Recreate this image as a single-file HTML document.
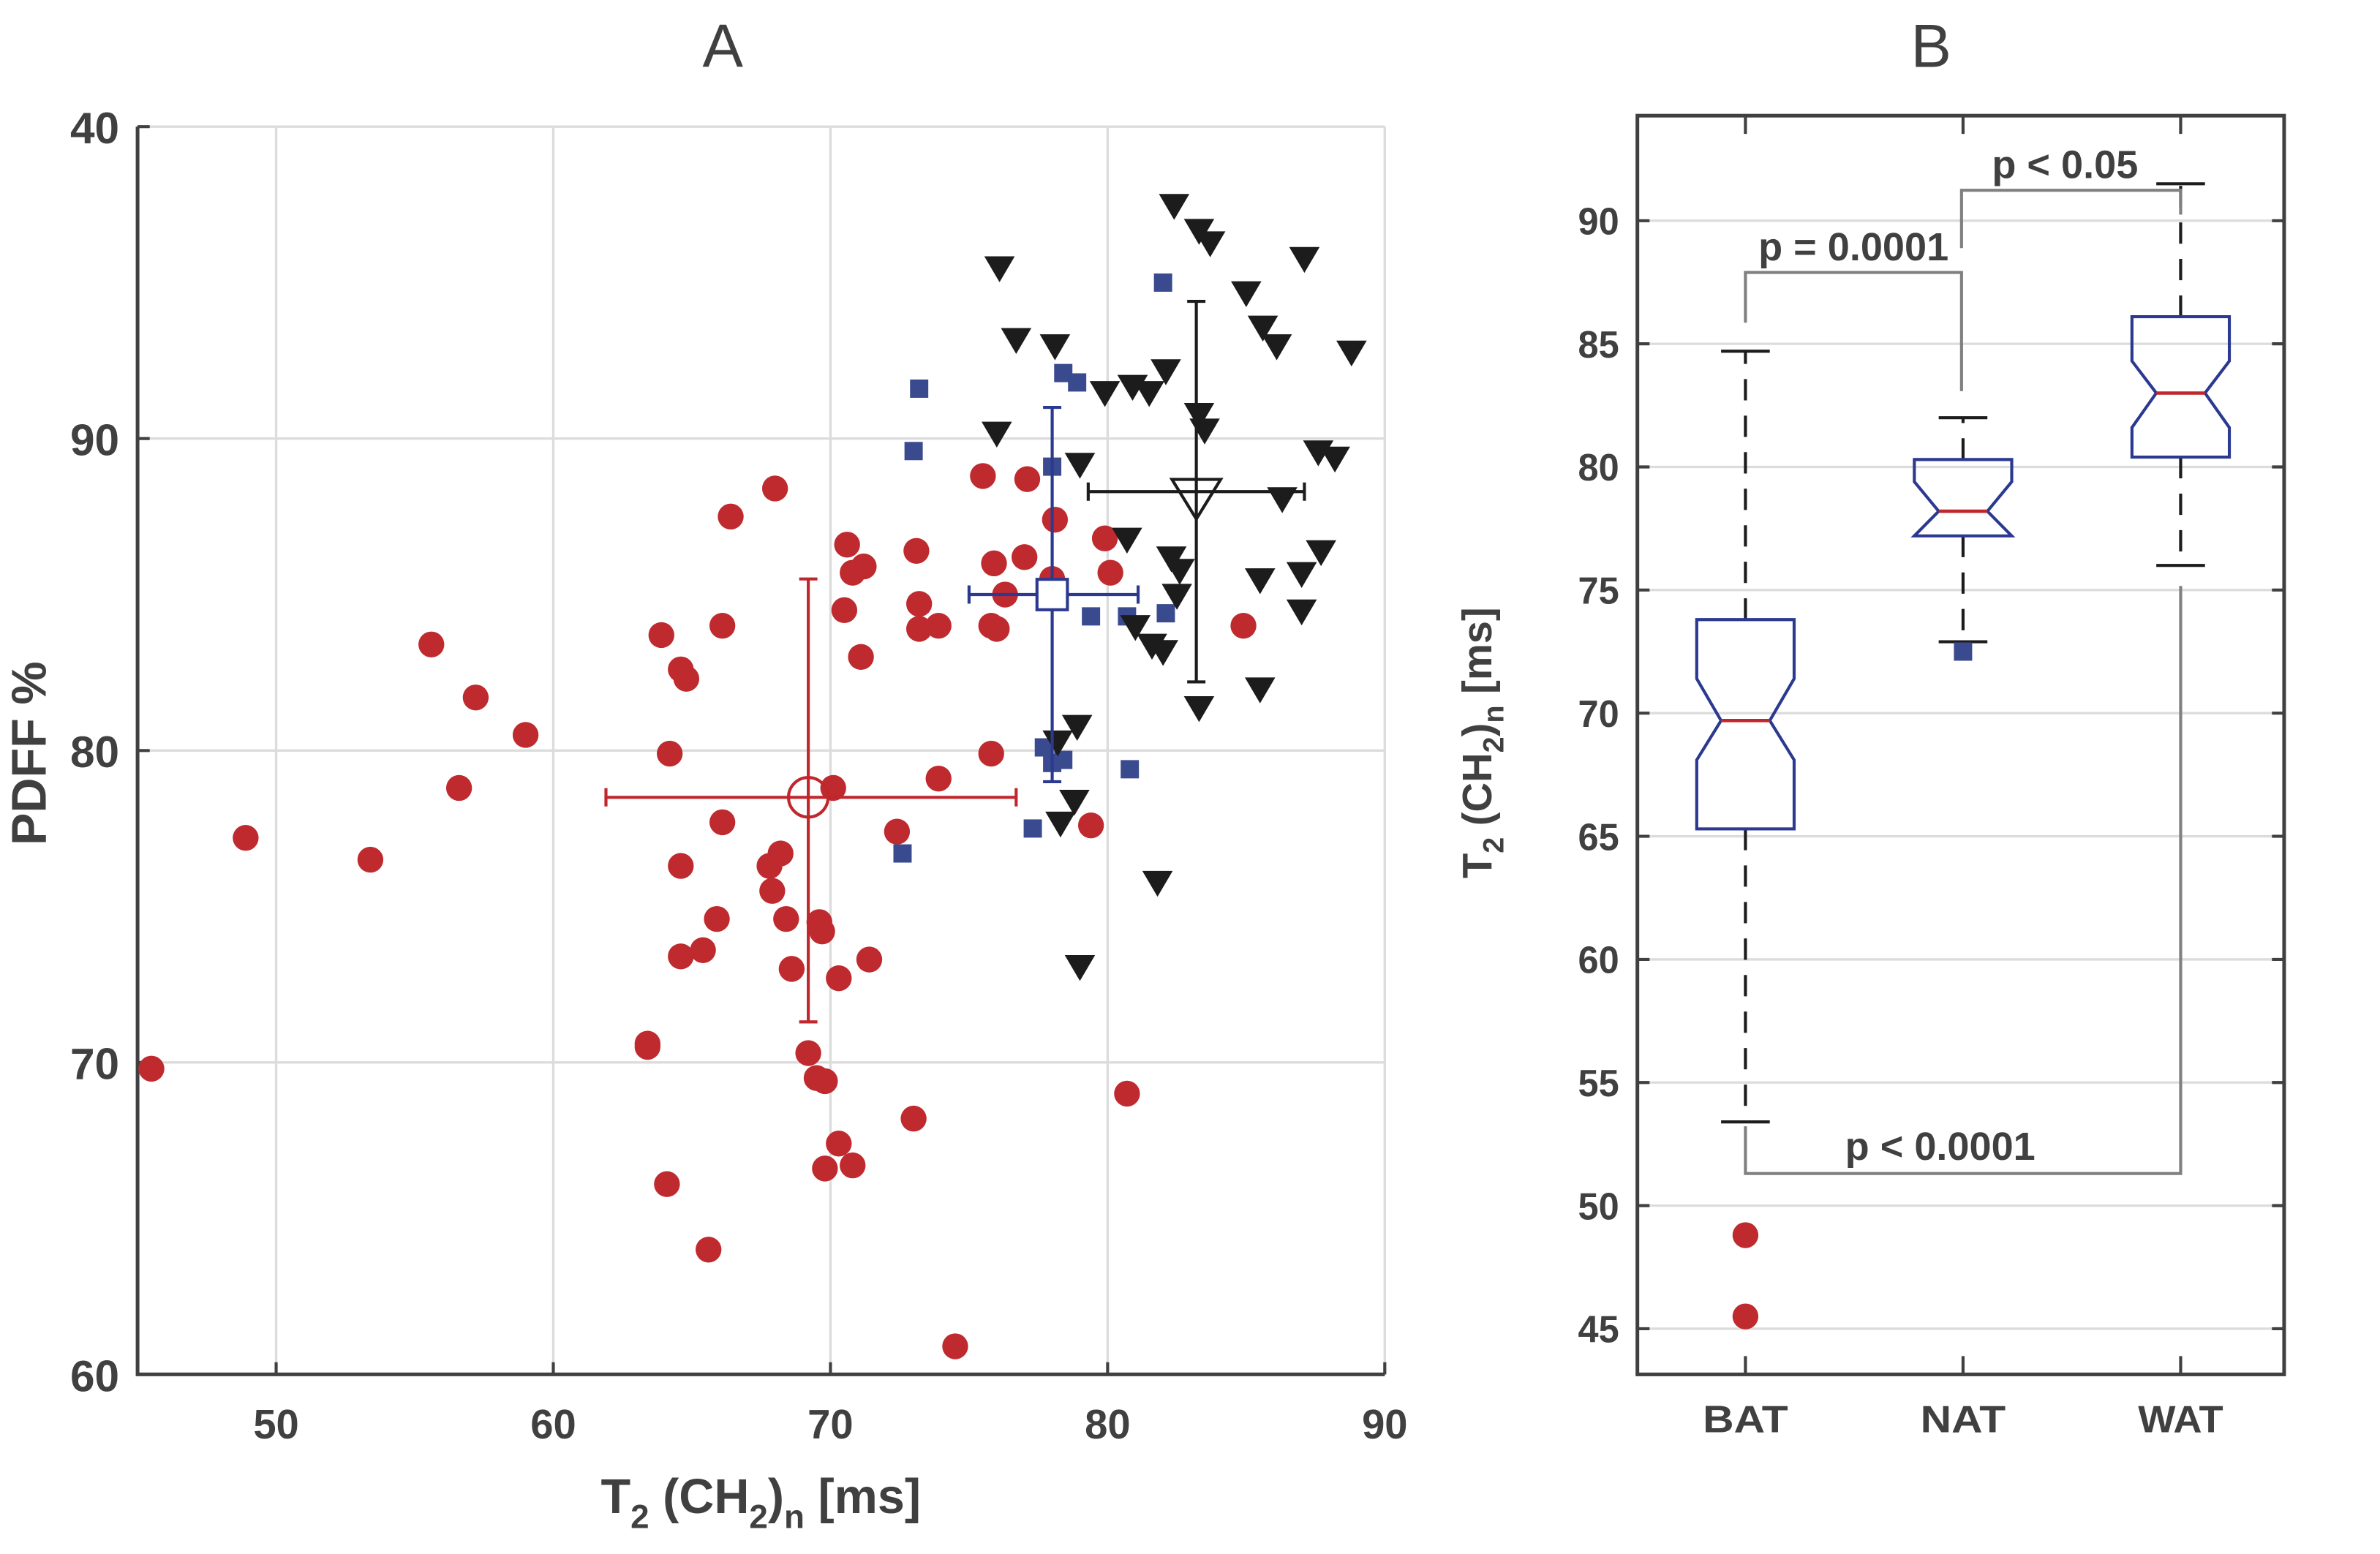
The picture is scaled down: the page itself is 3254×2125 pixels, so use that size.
<!DOCTYPE html>
<html><head><meta charset="utf-8"><style>
html,body{margin:0;padding:0;background:#fff}
svg{display:block}
text{font-family:"Liberation Sans",sans-serif;fill:#404040;font-weight:bold}
</style></head><body>
<svg id="fig" width="3254" height="2125" viewBox="0 0 1564 1021" preserveAspectRatio="none" xmlns="http://www.w3.org/2000/svg">
<g id="pa"></g>
<g id="pb"></g>
</svg>
<script>
// Panel A data
const batX=[45.5,48.9,53.4,55.6,57.2,56.6,59.0,63.9,64.6,64.8,64.2,64.6,66.1,66.1,66.4,68.0,65.9,65.4,64.6,63.4,63.4,64.1,65.6,67.8,68.2,67.9,68.4,68.6,69.6,69.7,70.1,70.3,69.2,69.5,69.8,70.3,69.8,70.8,70.5,71.1,70.6,70.8,71.2,71.4,72.4,73.0,73.1,73.2,73.2,73.9,73.9,74.5,75.5,75.8,75.8,76.0,75.9,76.3,77.0,77.1,78.1,78.0,79.9,80.1,79.4,80.7,84.9];
const batY=[69.8,77.2,76.5,83.4,81.7,78.8,80.5,83.7,82.6,82.3,79.9,76.3,77.7,84.0,87.5,88.4,74.6,73.6,73.4,70.6,70.5,66.1,64.0,76.3,76.7,75.5,74.6,73.0,74.5,74.2,78.8,72.7,70.3,69.5,69.4,67.4,66.6,66.7,84.5,83.0,86.6,85.7,85.9,73.3,77.4,68.2,86.4,84.7,83.9,84.0,79.1,60.9,88.8,79.9,84.0,83.9,86.0,85.0,86.2,88.7,87.4,85.5,86.8,85.7,77.6,69.0,84.0];
const natX=[73.2,73.0,82.0,78.4,78.9,78.0,79.4,80.7,82.1,77.7,78.0,78.4,80.8,77.3,72.6];
const natY=[91.6,89.6,95.0,92.1,91.8,89.1,84.3,84.3,84.4,80.1,79.6,79.7,79.4,77.5,76.7];
const watX=[76.1,76.7,78.1,76.0,79.0,79.9,80.9,81.5,82.1,82.4,83.3,83.7,85.6,85.0,86.1,87.1,88.8,83.3,83.5,87.6,88.2,86.3,80.7,82.3,82.6,82.5,87.7,87.0,85.5,87.0,81.0,81.6,82.0,85.5,83.3,78.9,78.2,78.8,78.3,81.8,79.0];
const watY=[95.5,93.2,93.0,90.2,89.2,91.5,91.7,91.5,92.2,97.5,96.7,96.3,93.6,94.7,93.0,95.8,92.8,90.8,90.3,89.6,89.4,88.1,86.8,86.2,85.8,85.0,86.4,85.7,85.5,84.5,84.0,83.4,83.2,82.0,81.4,80.8,80.3,78.4,77.7,75.8,73.1];
const meanX=[69.2,78.0,83.2];
const meanY=[78.5,85.0,88.3];
const errXlo=[61.9,75.0,79.3];
const errXhi=[76.7,81.1,87.1];
const errYlo=[71.3,79.0,82.2];
const errYhi=[85.5,91.0,94.4];
const xTicksA=[50,60,70,80,90];
const yTicksA=[60,70,80,90,100];
const yTickLabelsA=["60","70","80","90","40"];
// Panel B data
const cats=["BAT","NAT","WAT"];
const q1=[65.3,77.2,80.4];
const med=[69.7,78.2,83.0];
const q3=[73.8,80.3,86.1];
const notchLo=[68.1,77.2,81.6];
const notchHi=[71.4,79.4,84.3];
const whLo=[53.4,72.9,76.0];
const whHi=[84.7,82.0,91.5];
const outBAT=[48.8,45.5];
const outNAT=[72.5];
const yTicksB=[45,50,55,60,65,70,75,80,85,90];

const NS="http://www.w3.org/2000/svg";
function mk(p,tag,at){const e=document.createElementNS(NS,tag);for(const k in at)e.setAttribute(k,at[k]);p.appendChild(e);return e;}
const pa=document.getElementById('pa'), pb=document.getElementById('pb');
const AL=90.4,AR=910,AT=83.2,AB=903;
const ax=v=>AL+(v-45)*(AR-AL)/45;
const ay=v=>AB-(v-60)*(AB-AT)/40;
// grid
for(const t of xTicksA){const l=mk(pa,'line',{x1:ax(t),x2:ax(t),y1:AT,y2:AB,stroke:'#dcdcdc','stroke-width':1.6});

}
for(const t of yTicksA){const l=mk(pa,'line',{x1:AL,x2:AR,y1:ay(t),y2:ay(t),stroke:'#dcdcdc','stroke-width':1.6});

}
let e=mk(pa,'path',{d:`M${AL} ${AT}V${AB}H${AR}`,fill:'none',stroke:'#404040','stroke-width':2.4});


for(const t of xTicksA){mk(pa,'line',{x1:ax(t),x2:ax(t),y1:AB,y2:AB-8,stroke:'#404040','stroke-width':2});
const tx=mk(pa,'text',{x:ax(t),y:AB+42,'text-anchor':'middle','font-size':27});tx.textContent=t;

}
yTicksA.forEach((t,i)=>{mk(pa,'line',{x1:AL,x2:AL+8,y1:ay(t),y2:ay(t),stroke:'#404040','stroke-width':2});
const tx=mk(pa,'text',{x:AL-12,y:ay(t)+11,'text-anchor':'end','font-size':29});tx.textContent=yTickLabelsA[i];

});
// points
batX.forEach((x,i)=>{const c=mk(pa,'circle',{cx:ax(x),cy:ay(batY[i]),r:8.5,fill:'#bf2a2f'});

});
natX.forEach((x,i)=>{const c=mk(pa,'rect',{x:ax(x)-6,y:ay(natY[i])-6,width:12,height:12,fill:'#3a4a8e'});

});
watX.forEach((x,i)=>{const X=ax(x),Y=ay(watY[i]);const c=mk(pa,'path',{d:`M${X-10} ${Y-7}H${X+10}L${X} ${Y+10}Z`,fill:'#1c1c1c'});

});
// means + errors
const mcol=['#c0272d','#2b3990','#1c1c1c'];
meanX.forEach((m,i)=>{const g=mk(pa,'g',{stroke:mcol[i],'stroke-width':2,fill:'none'});


const X=ax(m),Y=ay(meanY[i]),x1=ax(errXlo[i]),x2=ax(errXhi[i]),y1=ay(errYlo[i]),y2=ay(errYhi[i]);
mk(g,'path',{d:`M${x1} ${Y}H${x2}M${x1} ${Y-6}V${Y+6}M${x2} ${Y-6}V${Y+6}M${X} ${y1}V${y2}M${X-6} ${y1}H${X+6}M${X-6} ${y2}H${X+6}`});
if(i==0)mk(g,'circle',{cx:X,cy:Y,r:13,fill:'none'});
if(i==1)mk(g,'rect',{x:X-10,y:Y-10,width:20,height:20,fill:'#fff'});
if(i==2)mk(g,'path',{d:`M${X-16} ${Y-8}H${X+16}L${X} ${Y+18}Z`,fill:'none'});});
let t;
t=mk(pa,'text',{x:475,y:44,'text-anchor':'middle','font-size':40,style:'font-weight:normal'});t.textContent='A';

t=mk(pa,'text',{x:500,y:994,'text-anchor':'middle','font-size':32});t.innerHTML='T<tspan font-size="22" dy="10">2</tspan><tspan dy="-10"> (CH</tspan><tspan font-size="22" dy="10">2</tspan><tspan dy="-10">)</tspan><tspan font-size="22" dy="10">n</tspan><tspan dy="-10"> [ms]</tspan>';

t=mk(pa,'text',{x:0,y:0,'text-anchor':'middle','font-size':32,transform:'translate(30,495) rotate(-90)'});t.textContent='PDFF %';


// Panel B
const BL=1076,BR=1501,BT=76,BB=903;
const by=v=>873-(v-45)*(873-145)/45;
const bx=i=>[1147,1290,1433][i];
for(const v of yTicksB){mk(pb,'line',{x1:BL,x2:BR,y1:by(v),y2:by(v),stroke:'#dcdcdc','stroke-width':1.6});
mk(pb,'path',{d:`M${BL} ${by(v)}h8M${BR} ${by(v)}h-8`,stroke:'#404040','stroke-width':2});
const tx=mk(pb,'text',{x:BL-12,y:by(v)+9,'text-anchor':'end','font-size':25,textLength:27,lengthAdjust:'spacingAndGlyphs'});tx.textContent=v;

}
e=mk(pb,'rect',{x:BL,y:BT,width:BR-BL,height:BB-BT,fill:'none',stroke:'#404040','stroke-width':2.4});


cats.forEach((c,i)=>{const X=bx(i);
mk(pb,'path',{d:`M${X} ${BB}v-12M${X} ${BT}v12`,stroke:'#404040','stroke-width':2});
const tx=mk(pb,'text',{x:X,y:941,'text-anchor':'middle','font-size':25,textLength:56,lengthAdjust:'spacingAndGlyphs'});tx.textContent=c;


const g=mk(pb,'g',{});


const w=32,n=16;
mk(g,'path',{d:`M${X} ${by(q3[i])}V${by(whHi[i])}M${X} ${by(q1[i])}V${by(whLo[i])}`,stroke:'#1c1c1c','stroke-width':2,'stroke-dasharray':'14 10'});
mk(g,'path',{d:`M${X-16} ${by(whHi[i])}H${X+16}M${X-16} ${by(whLo[i])}H${X+16}`,stroke:'#1c1c1c','stroke-width':2});
mk(g,'path',{d:`M${X-w} ${by(q1[i])}V${by(notchLo[i])}L${X-n} ${by(med[i])}L${X-w} ${by(notchHi[i])}V${by(q3[i])}H${X+w}V${by(notchHi[i])}L${X+n} ${by(med[i])}L${X+w} ${by(notchLo[i])}V${by(q1[i])}Z`,fill:'none',stroke:'#2b3990','stroke-width':2});
mk(g,'line',{x1:X-n,x2:X+n,y1:by(med[i]),y2:by(med[i]),stroke:'#c0272d','stroke-width':2.2});});
outBAT.forEach(v=>{const c=mk(pb,'circle',{cx:bx(0),cy:by(v),r:8.5,fill:'#bf2a2f'});

});
outNAT.forEach(v=>{const c=mk(pb,'rect',{x:bx(1)-6,y:by(v)-6,width:12,height:12,fill:'#3a4a8e'});

});
// significance brackets
const br=mk(pb,'path',{d:`M1147 212V179H1289V257M1289 163V125H1433V141M1147 740V771H1433V385`,fill:'none',stroke:'#808080','stroke-width':2});


[['p = 0.0001',1218,171,'p-value-bat-nat'],['p < 0.05',1357,117,'p-value-nat-wat'],['p < 0.0001',1275,762,'p-value-bat-wat']].forEach(a=>{
const tx=mk(pb,'text',{x:a[1],y:a[2],'text-anchor':'middle','font-size':26});tx.textContent=a[0];

});
t=mk(pb,'text',{x:1269,y:44,'text-anchor':'middle','font-size':40,style:'font-weight:normal'});t.textContent='B';

t=mk(pb,'text',{x:0,y:0,'text-anchor':'middle','font-size':27,transform:'translate(980,488) rotate(-90)'});t.innerHTML='T<tspan font-size="19" dy="8">2</tspan><tspan dy="-8"> (CH</tspan><tspan font-size="19" dy="8">2</tspan><tspan dy="-8">)</tspan><tspan font-size="19" dy="8">n</tspan><tspan dy="-8"> [ms]</tspan>';

</script>
</body></html>
